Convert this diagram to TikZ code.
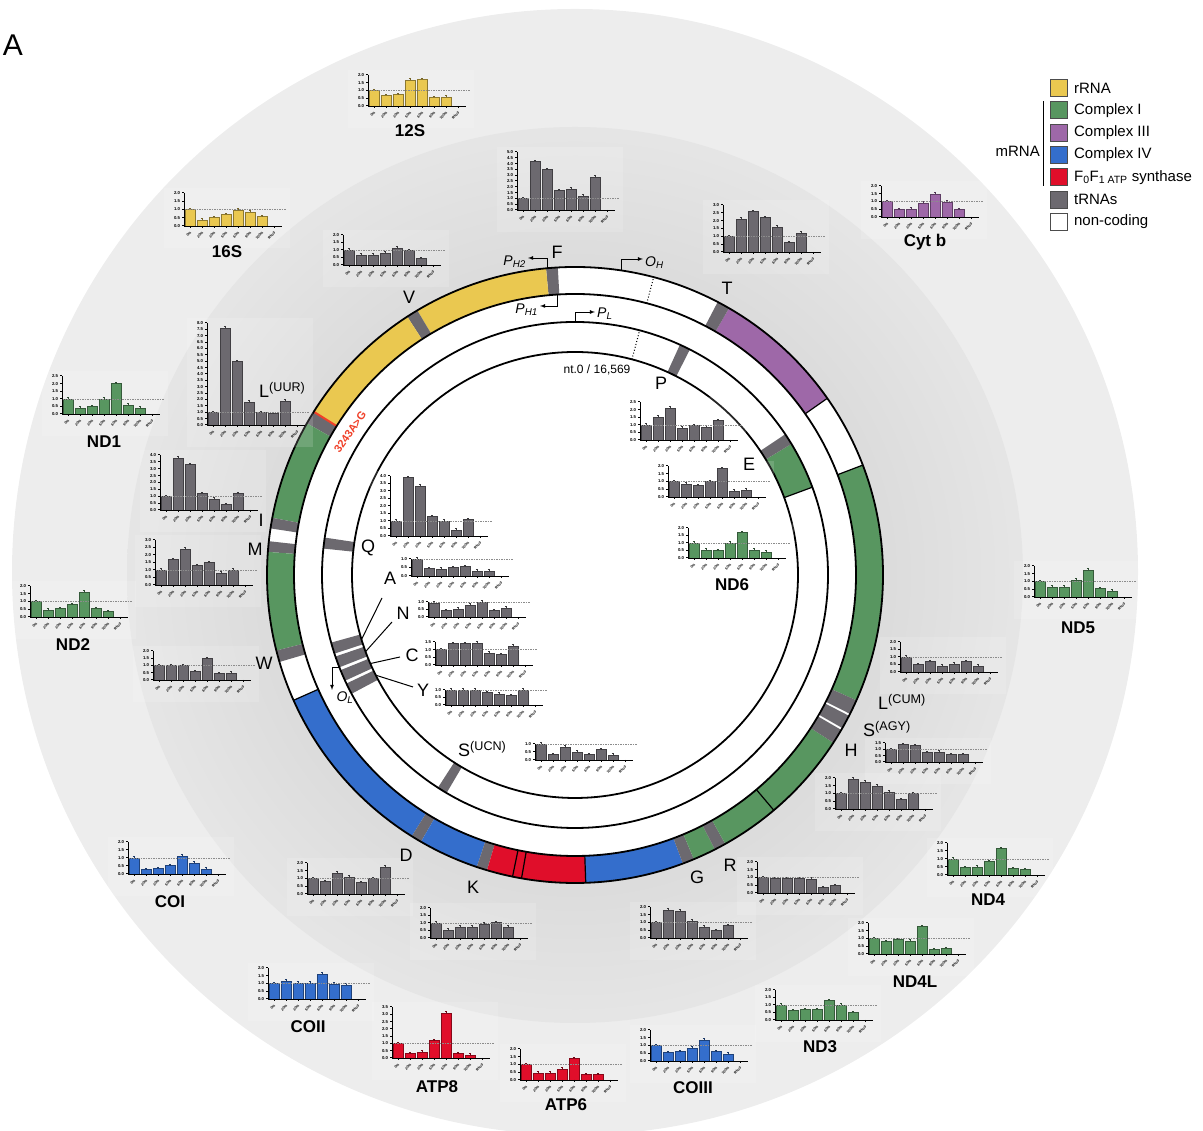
\documentclass[tikz,border=0pt]{standalone}
\usepackage{fontspec}
\setmainfont{Liberation Sans}
\usetikzlibrary{arrows,positioning}
\definecolor{rrna}{RGB}{234,200,80}
\definecolor{cpxi}{RGB}{88,150,96}
\definecolor{cpxiii}{RGB}{158,104,168}
\definecolor{cpxiv}{RGB}{52,110,204}
\definecolor{atps}{RGB}{224,14,42}
\definecolor{trnagray}{RGB}{108,105,111}
\definecolor{mutred}{RGB}{240,64,40}
\pgfdeclareradialshading{innerdisc}{\pgfpoint{0bp}{0bp}}{color(0bp)=(black!14);color(17bp)=(black!14);color(25bp)=(black!10);color(50bp)=(black!10)}

\tikzset{
	ylab/.style={font=\fontsize{4.3}{5}\selectfont\bfseries,anchor=east,inner sep=0.3pt},
	xlab/.style={font=\fontsize{3.5}{4}\selectfont\bfseries,anchor=east,rotate=45,inner sep=0.3pt},
	gname/.style={font=\fontsize{17}{17}\selectfont\bfseries,inner sep=0pt},
	glab/.style={font=\fontsize{18}{18}\selectfont,inner sep=0pt},
	prom/.style={-latex,line width=0.8pt},
	plab/.style={font=\fontsize{14}{14}\selectfont\itshape,inner sep=0pt},
	ring/.style={line width=1.8pt},
	legbox/.style={draw=black!70,line width=0.8pt,minimum size=17pt,inner sep=0pt},
	legtxt/.style={font=\fontsize{15}{15}\selectfont,inner sep=0pt,anchor=west}
}

% annular sector: start, end, inner r, outer r, colour
\newcommand{\arcseg}[5]{\fill[#5] (#1:#3) arc[start angle=#1,end angle=#2,radius=#3] -- (#2:#4) arc[start angle=#2,end angle=#1,radius=#4] -- cycle;}

% bar chart: origin, colour, y max, axis height, values
\newcommand{\barchart}[5]{%
	\begin{scope}[shift={#1}]
		\pgfmathsetmacro{\chartyu}{#4/#3}
		\pgfmathtruncatemacro{\charttk}{2*#3}
		\fill[white,fill opacity=0.15] (-20,-22) rectangle (106,#4+5);
		\foreach \v [count=\i] in {#5}{
			\filldraw[fill=#2,draw=#2!60!black,line width=0.4pt] ({12*\i-11},0) rectangle ({12*\i-1},{\v*\chartyu});
			\draw[#2!50!black,line width=0.4pt] ({12*\i-6},{\v*\chartyu}) -- ++(0,1.5) ++(-1.2,0) -- ++(2.4,0);
		}
		\draw[black!45,dashed,line width=0.4pt,dash pattern=on 1.5pt off 1pt] (0,\chartyu) -- (102,\chartyu);
		\foreach \k in {0,...,\charttk}{
			\pgfmathsetmacro{\tl}{\k/2}
			\draw[line width=1pt] (-2,{\k*\chartyu/2}) -- (0,{\k*\chartyu/2});
			\node[ylab] at (-3.5,{\k*\chartyu/2}) {\tl};
		}
		\foreach \t [count=\i] in {0\%,20\%,30\%,50\%,60\%,90\%,100\%,Rho0}{
			\draw[line width=1pt] ({12*\i-6},0) -- ++(0,-2);
			\node[xlab] at ({12*\i-5},-6) {\t};
		}
		\draw[line width=0.8pt] (0,#4) -- (0,0) -- (98,0);
	\end{scope}}

\begin{document}
\begin{tikzpicture}[x=1pt,y=1pt]
	\useasboundingbox (0,0) rectangle (1203,1131);
	\fill[black!7] (575,559) circle (563);
	\shade[shading=innerdisc] (575,556) circle (448);
	\node[font=\fontsize{30}{30}\selectfont,inner sep=0pt] (panel) at (13,1086) {A};

	\begin{scope}[shift={(575,556)}]
		\fill[white] (0,0) circle (308);
		% heavy strand
		\arcseg{-24}{20.9}{281}{308}{cpxi}
		\arcseg{35}{60}{281}{308}{cpxiii}
		\arcseg{60}{62.4}{281}{308}{trnagray}
		\arcseg{93.2}{95.4}{281}{308}{trnagray}
		\arcseg{95.4}{120.8}{281}{308}{rrna}
		\arcseg{120.8}{123}{281}{308}{trnagray}
		\arcseg{123}{148}{281}{308}{rrna}
		\arcseg{148}{150.5}{281}{308}{trnagray}
		\arcseg{150.5}{169.3}{281}{308}{cpxi}
		\arcseg{169.3}{171.3}{281}{308}{trnagray}
		\arcseg{173.7}{175.7}{281}{308}{trnagray}
		\arcseg{175.7}{194.2}{281}{308}{cpxi}
		\arcseg{194.2}{196.4}{281}{308}{trnagray}
		\arcseg{204}{238}{281}{308}{cpxiv}
		\arcseg{238}{240}{281}{308}{trnagray}
		\arcseg{240}{251.4}{281}{308}{cpxiv}
		\arcseg{251.4}{253.4}{281}{308}{trnagray}
		\arcseg{253.4}{272}{281}{308}{atps}
		\arcseg{272}{290.5}{281}{308}{cpxiv}
		\arcseg{290.5}{292.7}{281}{308}{trnagray}
		\arcseg{292.7}{297}{281}{308}{cpxi}
		\arcseg{297}{299.2}{281}{308}{trnagray}
		\arcseg{299.2}{327}{281}{308}{cpxi}
		\arcseg{327}{329.8}{281}{308}{trnagray}
		\arcseg{330.2}{332.8}{281}{308}{trnagray}
		\arcseg{333.2}{336}{281}{308}{trnagray}
		% light strand
		\arcseg{20.3}{31.2}{223}{253}{cpxi}
		\arcseg{31.2}{33.8}{223}{253}{trnagray}
		\arcseg{63}{65.5}{223}{253}{trnagray}
		\arcseg{171.5}{174}{223}{253}{trnagray}
		\arcseg{195.5}{198.1}{223}{253}{trnagray}
		\arcseg{198.8}{201.4}{223}{253}{trnagray}
		\arcseg{202.1}{204.7}{223}{253}{trnagray}
		\arcseg{205.4}{208}{223}{253}{trnagray}
		\arcseg{237.2}{239.5}{223}{253}{trnagray}
		\foreach \a in {20.9,35,204,258.3,260,272,310.2}
			\draw[line width=1.2pt] (\a:281) -- (\a:308);
		\draw[line width=1.2pt] (20.3:223) -- (20.3:253);
		\draw[mutred,line width=2pt] (148:281) -- (148:308);
		\foreach \r in {223,253,281,308}
			\draw[ring] (0,0) circle (\r);
		\draw[dotted,line width=1pt] (75.2:281) -- (75.2:308);
		\draw[dotted,line width=1pt] (75.2:223) -- (75.2:253);

		% promoters and origins
		\coordinate (ph2s) at (95.2:308);
		\coordinate (ph2e) at (-47,317);
		\coordinate (ph1s) at (93.5:281);
		\coordinate (ph1e) at (-35,269);
		\coordinate (ohs) at (81.3:308);
		\coordinate (ohe) at (68,316);
		\coordinate (pls) at (90:253);
		\coordinate (ple) at (20,263);
		\coordinate (ols) at (201.5:253);
		\coordinate (ole) at (-243,-115);
		\draw[prom] (ph2s) |- (ph2e);
		\draw[prom] (ph1s) |- (ph1e);
		\draw[prom] (ohs) |- (ohe);
		\draw[prom] (pls) |- (ple);
		\draw[prom] (ols) -| (ole);
		\node[plab,anchor=east] (lph2) at (-49,313) {P\textsubscript{H2}};
		\node[plab,anchor=east] (lph1) at (-37,265) {P\textsubscript{H1}};
		\node[plab,anchor=west] (loh) at (70,312) {O\textsubscript{H}};
		\node[plab,anchor=west] (lpl) at (22,261) {P\textsubscript{L}};
		\node[plab] (lol) at (-230,-123) {O\textsubscript{L}};
		\node[font=\fontsize{12}{12}\selectfont] (nt0) at (22,205) {nt.0 / 16,569};

		% light strand tRNA leaders
		\coordinate (ta) at (196.8:223);
		\coordinate (tn) at (200.1:223);
		\coordinate (tc) at (203.4:223);
		\coordinate (ty) at (206.7:223);
		\coordinate (fa) at (-193,-23);
		\coordinate (fn) at (-183,-47);
		\coordinate (fc) at (-175,-82);
		\coordinate (fy) at (-162,-112);
		\foreach \g in {a,n,c,y}
			\draw[line width=1pt] (f\g) -- (t\g);
	\end{scope}

	% expression charts
	\barchart{(368,1025)}{rrna}{2}{31}{1.0,0.68,0.73,1.68,1.72,0.55,0.57}
	\barchart{(184,905)}{rrna}{2}{33}{1.0,0.38,0.53,0.7,0.97,0.85,0.57}
	\barchart{(343,866)}{trnagray}{2}{30}{1.0,0.68,0.68,0.8,1.12,0.98,0.45}
	\barchart{(517,921)}{trnagray}{5}{58}{1.0,4.2,3.5,1.7,1.8,1.2,2.85}
	\barchart{(723,879)}{trnagray}{3}{47}{1.0,2.1,2.6,2.2,1.6,0.6,1.2}
	\barchart{(881,914)}{cpxiii}{2}{31}{1.0,0.48,0.53,0.92,1.5,0.97,0.48}
	\barchart{(207,706)}{trnagray}{8}{102}{1.0,7.6,5.0,1.8,1.0,0.9,1.9}
	\barchart{(62,717)}{cpxi}{2.5}{38}{1.0,0.4,0.5,1.0,2.0,0.6,0.4}
	\barchart{(160,621)}{trnagray}{4}{55}{1.0,3.8,3.3,1.2,0.8,0.4,1.2}
	\barchart{(155,546)}{trnagray}{3}{45}{1.0,1.7,2.4,1.3,1.5,0.8,1.0}
	\barchart{(30,514)}{cpxi}{2}{31}{1.0,0.45,0.55,0.8,1.6,0.55,0.35}
	\barchart{(153,451)}{trnagray}{2}{29}{1.0,1.0,1.0,0.6,1.5,0.45,0.5}
	\barchart{(390,595)}{trnagray}{4}{60}{1.0,3.9,3.35,1.3,1.0,0.4,1.1}
	\barchart{(411,555)}{trnagray}{1}{17}{1.0,0.45,0.4,0.5,0.55,0.3,0.3}
	\barchart{(428,514)}{trnagray}{1}{15}{0.95,0.45,0.55,0.8,1.0,0.45,0.6}
	\barchart{(435,466)}{trnagray}{1.5}{23}{1.0,1.4,1.4,1.45,0.8,0.7,1.25}
	\barchart{(445,426)}{trnagray}{1}{15}{1.0,1.0,1.0,0.85,0.75,0.65,1.0}
	\barchart{(535,371)}{trnagray}{1}{16}{1.0,0.35,0.8,0.5,0.35,0.65,0.3}
	\barchart{(640,691)}{trnagray}{2.5}{38}{1.0,1.5,2.1,0.8,0.95,0.85,1.3}
	\barchart{(668,634)}{trnagray}{2}{31}{1.0,0.85,0.75,1.0,1.85,0.4,0.45}
	\barchart{(688,573)}{cpxi}{2}{30}{1.0,0.55,0.5,1.0,1.7,0.55,0.4}
	\barchart{(1034,534)}{cpxi}{2}{31}{1.0,0.65,0.65,1.1,1.75,0.55,0.4}
	\barchart{(900,459)}{trnagray}{2}{30}{1.0,0.5,0.7,0.4,0.55,0.7,0.4}
	\barchart{(885,369)}{trnagray}{1.5}{19}{1.0,1.4,1.3,0.75,0.8,0.6,0.6}
	\barchart{(835,322)}{trnagray}{2}{31}{1.0,1.95,1.75,1.5,1.1,0.6,1.0}
	\barchart{(757,238)}{trnagray}{2}{31}{1.0,0.95,0.95,0.95,0.9,0.35,0.5}
	\barchart{(650,193)}{trnagray}{2}{31}{1.0,1.8,1.75,1.1,0.7,0.5,0.8}
	\barchart{(430,193)}{trnagray}{2}{30}{1.0,0.55,0.75,0.75,0.95,1.05,0.75}
	\barchart{(307,237)}{trnagray}{2}{31}{1.0,0.8,1.35,1.1,0.75,1.0,1.75}
	\barchart{(128,257)}{cpxiv}{2}{32}{1.0,0.28,0.35,0.52,1.12,0.68,0.3}
	\barchart{(268,132)}{cpxiv}{2}{31}{1.0,1.15,1.03,1.05,1.6,0.97,0.9}
	\barchart{(392,73)}{atps}{3.5}{51}{1.0,0.3,0.4,1.2,3.1,0.3,0.2}
	\barchart{(520,51)}{atps}{2}{31}{1.0,0.45,0.45,0.7,1.4,0.35,0.35}
	\barchart{(650,70)}{cpxiv}{2}{31}{1.0,0.55,0.6,0.85,1.35,0.6,0.45}
	\barchart{(775,111)}{cpxi}{2}{30}{1.0,0.65,0.7,0.7,1.3,1.0,0.5}
	\barchart{(868,177)}{cpxi}{2}{31}{1.0,0.8,0.95,0.85,1.78,0.3,0.37}
	\barchart{(947,256)}{cpxi}{2}{32}{1.0,0.47,0.5,0.85,1.65,0.42,0.35}

	\node[font=\fontsize{11}{11}\selectfont\bfseries,text=mutred,rotate=55] (mut) at (350,699) {3243A>G};

	% tRNA labels
	\node[glab] (tf) at (557,879) {F};
	\node[glab] (tv) at (409,834) {V};
	\node[glab,anchor=base west] (tluur) at (259,733) {L\textsuperscript{(UUR)}};
	\node[glab] (ti) at (261,611) {I};
	\node[glab] (tm) at (255,582) {M};
	\node[glab] (tq) at (368,583) {Q};
	\node[glab] (tw) at (264,468) {W};
	\node[glab] (ta) at (390,553) {A};
	\node[glab] (tn) at (403,518) {N};
	\node[glab] (tc) at (412,476) {C};
	\node[glab] (ty) at (423,441) {Y};
	\node[glab,anchor=base west] (tsucn) at (458,374) {S\textsuperscript{(UCN)}};
	\node[glab] (td) at (406,276) {D};
	\node[glab] (tk) at (473,244) {K};
	\node[glab] (tg) at (697,254) {G};
	\node[glab] (tr) at (730,266) {R};
	\node[glab] (th) at (851,381) {H};
	\node[glab,anchor=base west] (tsagy) at (863,394) {S\textsuperscript{(AGY)}};
	\node[glab,anchor=base west] (tlcun) at (878,421) {L\textsuperscript{(CUM)}};
	\node[glab] (tt) at (727,843) {T};
	\node[glab] (tp) at (661,748) {P};
	\node[glab] (te) at (749,667) {E};

	% gene names
	\node[gname] (n12s) at (410,1000) {12S};
	\node[gname] (n16s) at (227,879) {16S};
	\node[gname] (ncytb) at (925,889) {Cyt b};
	\node[gname] (nnd1) at (104,689) {ND1};
	\node[gname] (nnd2) at (73,486) {ND2};
	\node[gname] (nnd6) at (732,546) {ND6};
	\node[gname] (nnd5) at (1078,503) {ND5};
	\node[gname] (ncoi) at (170,229) {COI};
	\node[gname] (ncoii) at (308,104) {COII};
	\node[gname] (natp8) at (437,44) {ATP8};
	\node[gname] (natp6) at (566,26) {ATP6};
	\node[gname] (ncoiii) at (693,43) {COIII};
	\node[gname] (nnd3) at (820,84) {ND3};
	\node[gname] (nnd4l) at (915,149) {ND4L};
	\node[gname] (nnd4) at (988,231) {ND4};

	% legend
	\foreach \c/\t [count=\i] in {rrna/rRNA,cpxi/Complex I,cpxiii/Complex III,cpxiv/Complex IV,atps/{F\textsubscript{0}F\textsubscript{1 ATP} synthase},trnagray/tRNAs,white/non-coding}{
		\node[legbox,fill=\c] (key\i) at (1059,{1065.3-22.33*\i}) {};
		\node[legtxt,right=6pt of key\i] (keytxt\i) {\t};
	}
	\node[legtxt,anchor=east] (mrna) at (1040,980) {mRNA};
	\draw[line width=1pt] ([xshift=-7pt]key2.north west) -- ([xshift=-7pt]key5.south west);
\end{tikzpicture}
\end{document}
